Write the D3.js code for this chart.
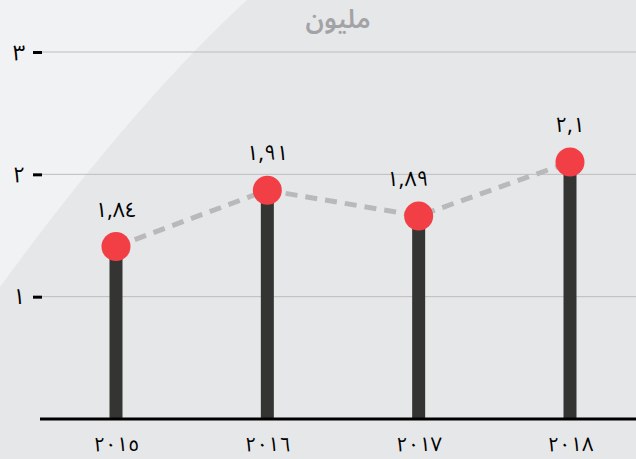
<!DOCTYPE html>
<html>
<head>
<meta charset="utf-8">
<script src="https://cdn.jsdelivr.net/npm/d3@7"></script>
<style>
  body { margin: 0; background: #e6e7e9; }
  svg { display: block; }
  text { font-family: "Noto Sans Arabic", "Noto Sans", sans-serif; }
</style>
</head>
<body>
<div id="chart"></div>
<script>
// data
const years = ['2015', '2016', '2017', '2018'];
const yearLabels = ['٢٠١٥', '٢٠١٦', '٢٠١٧', '٢٠١٨'];
const values = [1.41, 1.87, 1.66, 2.10];
const valueLabels = ['١,٨٤', '١,٩١', '١,٨٩', '٢,١'];
const yTicks = [1, 2, 3];
const yTickLabels = ['١', '٢', '٣'];
const unit = 'مليون';

const width = 636, height = 459;
const labelShift = [0, 0, -11, 0];

const svg = d3.select('#chart')
  .append('svg')
  .attr('width', width)
  .attr('height', height);

// background with the lighter corner
svg.append('rect')
  .attr('width', width)
  .attr('height', height)
  .attr('fill', '#e6e7e9');
svg.append('path')
  .attr('d', 'M0,0 L247,0 Q132,106 0,287 Z')
  .attr('fill', '#f1f2f4');

const x = d3.scalePoint().domain(years).range([116, 570]);
const y = d3.scaleLinear().domain([0, 3]).range([419, 52]);

// grid lines
svg.append('g')
  .selectAll('line')
  .data(yTicks)
  .enter()
  .append('line')
  .attr('x1', 42)
  .attr('x2', width)
  .attr('y1', d => y(d))
  .attr('y2', d => y(d))
  .attr('stroke', '#bdbdbd')
  .attr('stroke-width', 1);

// y axis
const yAxis = d3.axisLeft(y)
  .tickValues(yTicks)
  .tickSize(9)
  .tickPadding(8)
  .tickFormat((d, i) => yTickLabels[i]);

const gy = svg.append('g')
  .attr('transform', 'translate(42,0)')
  .call(yAxis);
gy.select('.domain').remove();
gy.selectAll('.tick line').attr('stroke', '#000').attr('stroke-width', 3);
gy.selectAll('.tick text')
  .attr('x', -23)
  .attr('text-anchor', 'middle')
  .attr('font-size', 22)
  .attr('fill', '#000');

// title
svg.append('text')
  .attr('x', 338)
  .attr('y', 28)
  .attr('text-anchor', 'middle')
  .attr('font-size', 26)
  .attr('font-weight', 600)
  .attr('fill', '#a3a3a5')
  .text(unit);

// bars
svg.append('g')
  .selectAll('rect')
  .data(values)
  .enter()
  .append('rect')
  .attr('x', (d, i) => x(years[i]) - 6.5)
  .attr('width', 13)
  .attr('y', d => y(d))
  .attr('height', d => y(0) - y(d))
  .attr('fill', '#343532');

// x axis line and labels
const xAxis = d3.axisBottom(x)
  .tickSize(0)
  .tickPadding(18)
  .tickFormat((d, i) => yearLabels[i]);

const gx = svg.append('g')
  .attr('transform', 'translate(0,' + y(0) + ')')
  .call(xAxis);
gx.select('.domain').remove();
gx.append('line')
  .attr('x1', 40)
  .attr('x2', width)
  .attr('stroke', '#000')
  .attr('stroke-width', 3);
gx.selectAll('.tick text')
  .attr('font-size', 20)
  .attr('fill', '#000');

// dashed line
const line = d3.line()
  .x((d, i) => x(years[i]))
  .y(d => y(d));

svg.append('path')
  .datum(values)
  .attr('d', line)
  .attr('fill', 'none')
  .attr('stroke', '#b9b9b9')
  .attr('stroke-width', 5)
  .attr('stroke-dasharray', '12,8');

// points
svg.append('g')
  .selectAll('circle')
  .data(values)
  .enter()
  .append('circle')
  .attr('cx', (d, i) => x(years[i]))
  .attr('cy', d => y(d))
  .attr('r', 14.5)
  .attr('fill', '#f23f45');

// value labels
svg.append('g')
  .selectAll('text')
  .data(values)
  .enter()
  .append('text')
  .attr('x', (d, i) => x(years[i]) + labelShift[i])
  .attr('y', d => y(d) - 30)
  .attr('text-anchor', 'middle')
  .attr('font-size', 21)
  .attr('fill', '#000')
  .text((d, i) => valueLabels[i]);
</script>
</body>
</html>
